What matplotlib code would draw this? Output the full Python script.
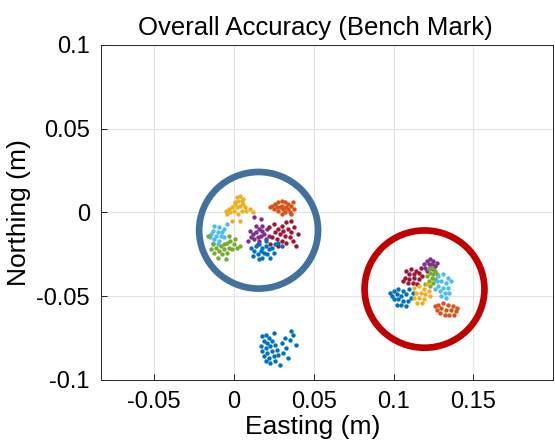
#! /usr/bin/python
# -*- coding: utf-8 -*-
import numpy as np
import matplotlib
matplotlib.use("Agg")
matplotlib.rcParams.update({'font.size': 17, 'font.family': 'Liberation Sans'})
import matplotlib.pyplot as plt
from matplotlib.patches import Ellipse

# Easting / Northing (m) of each fix, per receiver run
# -- group near the origin
yellow_a = [(0.002, 0.009), (0.004, 0.010), (0.003, 0.007), (0.005, 0.007), (0.001, 0.005),
            (0.004, 0.004), (0.006, 0.005), (0.007, 0.003), (0.002, 0.003), (-0.001, 0.003),
            (-0.003, 0.002), (-0.005, 0.001), (-0.002, 0.000), (0.000, 0.001), (0.005, 0.001),
            (0.008, 0.001), (0.010, 0.002), (0.012, 0.000), (0.003, -0.001), (-0.001, -0.005),
            (0.004, -0.005), (0.001, 0.006), (0.006, 0.008), (-0.004, -0.001)]
orange_a = [(0.024, 0.004), (0.026, 0.005), (0.028, 0.006), (0.030, 0.007), (0.032, 0.006),
            (0.034, 0.005), (0.029, 0.003), (0.031, 0.002), (0.033, 0.003), (0.036, 0.004),
            (0.038, 0.002), (0.035, 0.000), (0.032, 0.000), (0.028, 0.001), (0.025, 0.002),
            (0.027, 0.003), (0.030, 0.004), (0.034, 0.002), (0.037, 0.006), (0.023, 0.003),
            (0.036, -0.001), (0.030, -0.001)]
purple_a = [(0.016, -0.010), (0.018, -0.011), (0.014, -0.012), (0.012, -0.013), (0.017, -0.014),
            (0.019, -0.013), (0.015, -0.015), (0.013, -0.016), (0.011, -0.015), (0.020, -0.016),
            (0.016, -0.017), (0.018, -0.008), (0.014, -0.008), (0.010, -0.011), (0.021, -0.010),
            (0.013, -0.003), (0.017, -0.004), (0.009, -0.017), (0.022, -0.014), (0.015, -0.019)]
darkred_a = [(0.030, -0.008), (0.033, -0.006), (0.028, -0.010), (0.031, -0.011), (0.034, -0.010),
             (0.036, -0.012), (0.026, -0.012), (0.029, -0.013), (0.032, -0.014), (0.035, -0.015),
             (0.038, -0.009), (0.024, -0.015), (0.027, -0.016), (0.030, -0.017), (0.033, -0.018),
             (0.037, -0.017), (0.040, -0.013), (0.022, -0.009), (0.025, -0.007), (0.036, -0.005),
             (0.028, -0.020), (0.039, -0.020), (0.023, -0.019)]
blue_a = [(0.014, -0.020), (0.016, -0.019), (0.018, -0.021), (0.020, -0.020), (0.022, -0.022),
          (0.017, -0.023), (0.019, -0.024), (0.013, -0.023), (0.015, -0.025), (0.021, -0.025),
          (0.024, -0.021), (0.026, -0.019), (0.028, -0.018), (0.011, -0.021), (0.018, -0.027),
          (0.023, -0.027), (0.012, -0.026), (0.025, -0.024), (0.030, -0.020), (0.020, -0.017),
          (0.016, -0.028)]
cyan_a = [(-0.012, -0.008), (-0.009, -0.009), (-0.006, -0.010), (-0.013, -0.011), (-0.010, -0.012),
          (-0.007, -0.012), (-0.014, -0.013), (-0.011, -0.014), (-0.008, -0.014), (-0.012, -0.016),
          (-0.009, -0.017), (-0.006, -0.015), (-0.015, -0.015), (-0.010, -0.019), (-0.004, -0.007),
          (-0.013, -0.018)]
green_a = [(-0.016, -0.014), (-0.013, -0.019), (-0.011, -0.021), (-0.008, -0.020), (-0.006, -0.019),
           (-0.004, -0.018), (-0.002, -0.017), (0.000, -0.019), (-0.003, -0.021), (-0.006, -0.022),
           (-0.009, -0.023), (-0.012, -0.024), (-0.007, -0.025), (-0.004, -0.024), (-0.001, -0.022),
           (0.002, -0.021), (0.004, -0.020), (-0.010, -0.027), (-0.005, -0.028), (-0.014, -0.022),
           (0.001, -0.016), (-0.003, -0.014)]
# -- lone run further south
blue_south = [(0.018, -0.074), (0.020, -0.073), (0.022, -0.075), (0.019, -0.077), (0.021, -0.078),
              (0.024, -0.077), (0.017, -0.080), (0.020, -0.081), (0.023, -0.080), (0.026, -0.079),
              (0.018, -0.083), (0.021, -0.084), (0.024, -0.083), (0.027, -0.082), (0.019, -0.086),
              (0.022, -0.087), (0.025, -0.086), (0.028, -0.085), (0.020, -0.089), (0.023, -0.090),
              (0.026, -0.089), (0.030, -0.078), (0.033, -0.081), (0.031, -0.084), (0.035, -0.076),
              (0.037, -0.073), (0.036, -0.071), (0.032, -0.075), (0.034, -0.087), (0.029, -0.091),
              (0.025, -0.072), (0.039, -0.079)]
# -- group to the south-east
darkred_b = [(0.108, -0.035), (0.111, -0.034), (0.114, -0.035), (0.110, -0.037), (0.113, -0.037),
             (0.116, -0.036), (0.107, -0.039), (0.110, -0.040), (0.113, -0.039), (0.116, -0.040),
             (0.109, -0.042), (0.112, -0.042), (0.115, -0.043), (0.118, -0.038), (0.106, -0.041),
             (0.117, -0.033)]
purple_b = [(0.119, -0.031), (0.121, -0.029), (0.123, -0.028), (0.125, -0.029), (0.122, -0.031),
            (0.124, -0.031), (0.126, -0.032), (0.120, -0.033), (0.123, -0.033), (0.127, -0.030),
            (0.121, -0.035), (0.125, -0.034)]
green_b = [(0.122, -0.034), (0.124, -0.033), (0.126, -0.035), (0.123, -0.036), (0.125, -0.037),
           (0.121, -0.038), (0.124, -0.039), (0.126, -0.040), (0.122, -0.041), (0.125, -0.042),
           (0.123, -0.044), (0.120, -0.043), (0.127, -0.037)]
cyan_b = [(0.128, -0.038), (0.131, -0.037), (0.134, -0.039), (0.127, -0.041), (0.130, -0.041),
          (0.133, -0.042), (0.136, -0.041), (0.128, -0.044), (0.131, -0.045), (0.134, -0.045),
          (0.129, -0.047), (0.132, -0.048), (0.135, -0.048), (0.130, -0.050), (0.133, -0.051),
          (0.126, -0.046)]
blue_b = [(0.100, -0.047), (0.103, -0.046), (0.106, -0.047), (0.099, -0.050), (0.102, -0.049),
          (0.105, -0.050), (0.108, -0.049), (0.111, -0.051), (0.100, -0.052), (0.103, -0.052),
          (0.106, -0.053), (0.109, -0.053), (0.102, -0.055), (0.105, -0.055), (0.108, -0.056),
          (0.098, -0.048), (0.112, -0.048), (0.110, -0.046)]
yellow_b = [(0.113, -0.045), (0.116, -0.044), (0.119, -0.046), (0.114, -0.048), (0.117, -0.048),
            (0.120, -0.049), (0.113, -0.051), (0.116, -0.051), (0.119, -0.052), (0.115, -0.054),
            (0.118, -0.054), (0.122, -0.047), (0.123, -0.050), (0.121, -0.043)]
orange_b = [(0.128, -0.055), (0.131, -0.054), (0.134, -0.055), (0.137, -0.056), (0.127, -0.058),
            (0.130, -0.057), (0.133, -0.058), (0.136, -0.058), (0.139, -0.059), (0.129, -0.060),
            (0.132, -0.061), (0.135, -0.061), (0.138, -0.061), (0.126, -0.056), (0.140, -0.057)]

# MATLAB default line colours
C_BLUE, C_ORANGE, C_YELLOW = '#0072BD', '#D95319', '#EDB120'
C_PURPLE, C_GREEN, C_CYAN, C_DRED = '#7E2F8E', '#77AC30', '#4DBEEE', '#A2142F'

runs = [(yellow_a, C_YELLOW), (orange_a, C_ORANGE), (cyan_a, C_CYAN), (green_a, C_GREEN),
        (purple_a, C_PURPLE), (darkred_a, C_DRED), (blue_a, C_BLUE), (blue_south, C_BLUE),
        (darkred_b, C_DRED), (purple_b, C_PURPLE), (green_b, C_GREEN), (cyan_b, C_CYAN),
        (blue_b, C_BLUE), (yellow_b, C_YELLOW), (orange_b, C_ORANGE)]

fig = plt.figure(figsize=(5.55, 4.48), dpi=100)
ax = fig.add_axes([0.182, 0.152, 0.815, 0.748])

for pts, col in runs:
    pts = np.array(pts)
    ax.scatter(pts[:, 0], pts[:, 1], s=10, color=col, linewidths=0, zorder=3)

# highlight circles
ax.add_patch(Ellipse((0.0156, -0.0107), 0.0744, 0.0696, fill=False,
                     ec='#41719C', lw=4.8, zorder=4))
ax.add_patch(Ellipse((0.1194, -0.0458), 0.075, 0.070, fill=False,
                     ec='#C00000', lw=4.8, zorder=4))

ax.set_xlim(-0.083, 0.2)
ax.set_ylim(-0.1, 0.1)
ax.set_xticks([-0.05, 0, 0.05, 0.1, 0.15])
ax.set_xticklabels(['-0.05', '0', '0.05', '0.1', '0.15'])
ax.set_yticks([-0.1, -0.05, 0, 0.05, 0.1])
ax.set_yticklabels(['-0.1', '-0.05', '0', '0.05', '0.1'])
ax.tick_params(direction='in', length=4, width=0.6, pad=8, labelsize=17)
ax.grid(True, color='#e3e3e3', lw=0.8)
ax.set_axisbelow(True)
for sp in ax.spines.values():
    sp.set_linewidth(0.7)
    sp.set_color('#262626')

ax.set_xlabel('Easting (m)', fontsize=19, labelpad=1)
ax.xaxis.set_label_coords(0.467, -0.105)
ax.set_ylabel('Northing (m)', fontsize=19, labelpad=4)
ax.set_title('Overall Accuracy (Bench Mark)', fontsize=18.5, pad=7, x=0.473)

fig.savefig('out.png', dpi=100)
